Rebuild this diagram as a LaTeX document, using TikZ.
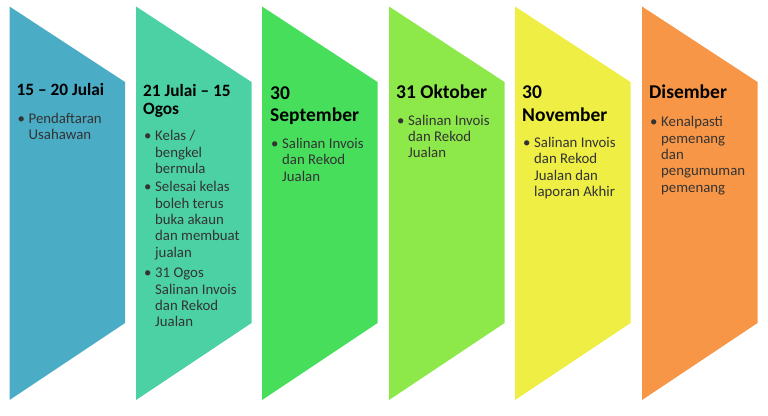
\documentclass[tikz,border=0pt]{standalone}
\usepackage{fontspec}
\setmainfont{Carlito}
\usetikzlibrary{positioning}
\definecolor{StepBlue}{HTML}{4BACC6}
\definecolor{StepTeal}{HTML}{4CD1A4}
\definecolor{StepGreen}{HTML}{47DE5C}
\definecolor{StepLime}{HTML}{8DE84A}
\definecolor{StepYellow}{HTML}{EEEE45}
\definecolor{StepOrange}{HTML}{F79646}
\newcommand{\bitem}[1]{\makebox[11pt][l]{\textbullet}\begin{tabular}[t]{@{}l@{}}#1\end{tabular}}
\tikzset{
    headnode/.style={
        anchor=base west, align=left, inner sep=0pt, font=\bfseries\fontsize{17.3}{17.6}\selectfont
    },
    bigheadnode/.style={
        headnode, font=\bfseries\fontsize{19.5}{22.4}\selectfont
    },
    itemnode/.style={
        anchor=base west, inner sep=0pt, text=black!80, font=\fontsize{14.8}{16.4}\selectfont
    }
}
\begin{document}
\begin{tikzpicture}[x=1pt, y=-1pt]
        \useasboundingbox (0,0) rectangle (768,415);
        % step shapes
        \fill[StepBlue] (9.5,6.5) -- (125,82) -- (125,323) -- (9.5,400) -- cycle;
        \fill[StepTeal] (136,6.5) -- (251.5,82) -- (251.5,323) -- (136,400) -- cycle;
        \fill[StepGreen] (262,6.5) -- (377.5,82) -- (377.5,323) -- (262,400) -- cycle;
        \fill[StepLime] (389,6.5) -- (504.5,82) -- (504.5,323) -- (389,400) -- cycle;
        \fill[StepYellow] (515,6.5) -- (630.5,82) -- (630.5,323) -- (515,400) -- cycle;
        \fill[StepOrange] (642,6.5) -- (757.5,82) -- (757.5,323) -- (642,400) -- cycle;

        % headings sit on the baseline of their last line
        \node[headnode] (head1) at (16.5,95.7) {15 – 20 Julai};
        \node[itemnode] (item11) at (17.5,123.3) {\bitem{Pendaftaran\\Usahawan}};

        \node[headnode] (head2) at (143,114.3) {21 Julai – 15\\Ogos};
        \node[itemnode] (item21) at (144,140.7) {\bitem{Kelas /\\bengkel\\bermula}};
        \node[itemnode] (item22) at (144,191.7) {\bitem{Selesai kelas\\boleh terus\\buka akaun\\dan membuat\\jualan}};
        \node[itemnode] (item23) at (144,277.7) {\bitem{31 Ogos\\Salinan Invois\\dan Rekod\\Jualan}};

        \node[bigheadnode] (head3) at (270,121.7) {30\\September};
        \node[itemnode] (item31) at (271,148.3) {\bitem{Salinan Invois\\dan Rekod\\Jualan}};

        \node[bigheadnode] (head4) at (396,98.3) {31 Oktober};
        \node[itemnode] (item41) at (397,125) {\bitem{Salinan Invois\\dan Rekod\\Jualan}};

        \node[bigheadnode] (head5) at (522,121) {30\\November};
        \node[itemnode] (item51) at (523,147.5) {\bitem{Salinan Invois\\dan Rekod\\Jualan dan\\laporan Akhir}};

        \node[bigheadnode] (head6) at (649,98.3) {Disember};
        \node[itemnode] (item61) at (650,126.7) {\bitem{Kenalpasti\\pemenang\\dan\\pengumuman\\pemenang}};
    \end{tikzpicture}
\end{document}
